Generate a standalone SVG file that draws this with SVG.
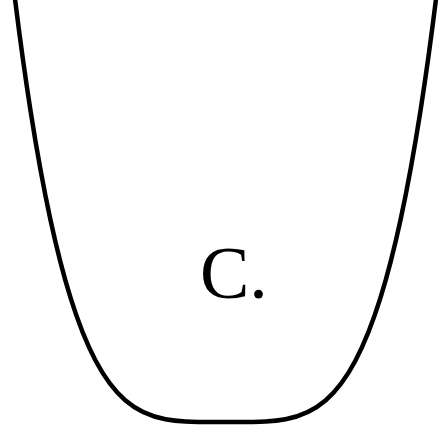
<svg xmlns="http://www.w3.org/2000/svg" width="438" height="434" viewBox="0 0 438 434">
<style>
.curve{fill:none;stroke:#000;stroke-width:4.5;stroke-linejoin:round}
.lbl{font-family:"Liberation Serif","DejaVu Serif",serif;font-size:74px;fill:#000}
</style>
<rect width="438" height="434" fill="#fff"/>
<g id="curve" transform="translate(225.5,0)">
<path class="curve" d="M-212,-13.1 C-206.33,33.42 -200.67,74.40 -195,110.6 C-188.33,153.19 -181.67,189.21 -175,220 C-168.33,250.79 -161.67,276.28 -155,297.67 C-146.67,324.4 -138.33,344.71 -130,360.48 C-120,379.41 -110,391.84 -100,400.46 C-86.67,411.95 -73.33,416.73 -60,419.21 C-53.33,420.45 -46.67,421.08 -40,421.45 C-26.67,422.18 -13.33,422 0,422 C13.33,422 26.67,422.18 40,421.45 C46.67,421.08 53.33,420.45 60,419.21 C73.33,416.73 86.67,411.95 100,400.46 C110,391.84 120,379.41 130,360.48 C138.33,344.71 146.67,324.4 155,297.67 C161.67,276.28 168.33,250.79 175,220 C181.67,189.21 188.33,153.19 195,110.6 C200.67,74.40 206.33,33.42 212,-13.1"/>
</g>
<g id="label">
<text class="lbl" x="200" y="298">C.</text>
</g>
</svg>
